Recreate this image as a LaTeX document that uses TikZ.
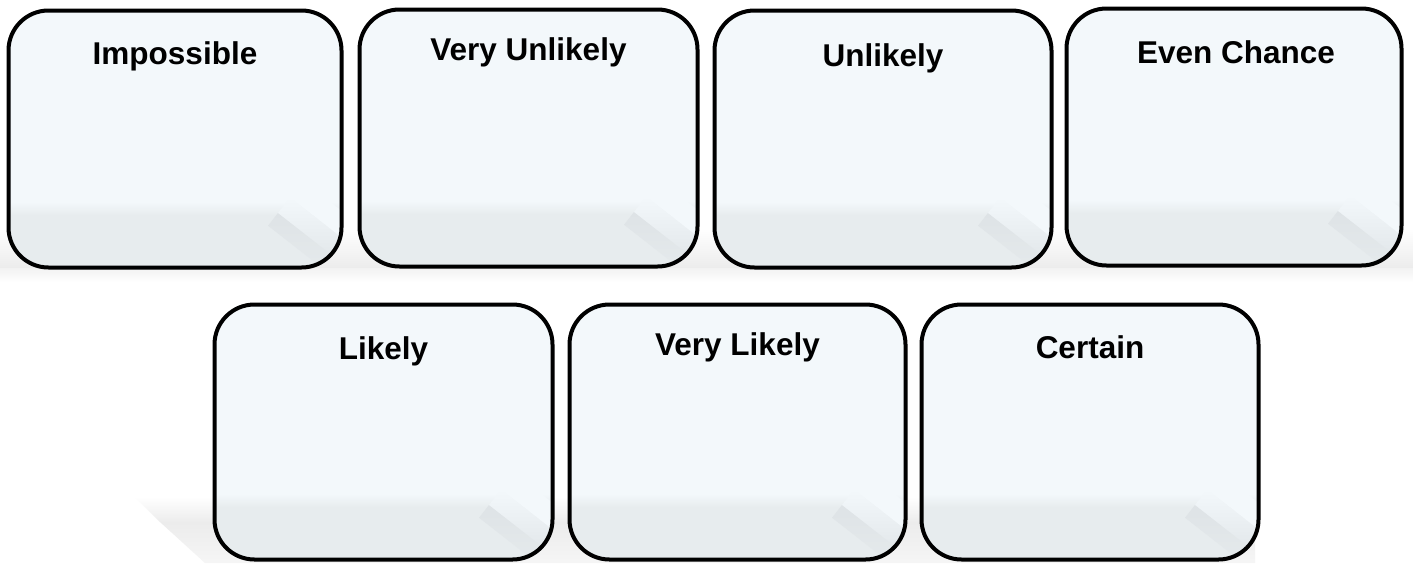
\documentclass[tikz,border=0pt]{standalone}
\usepackage{fontspec}
\setmainfont{Liberation Sans}
\usetikzlibrary{calc,backgrounds}
\definecolor{boxtop}{HTML}{F3F8FB}
\definecolor{boxbot}{HTML}{E7ECEE}
\definecolor{streakc}{HTML}{DEE3E6}
\definecolor{shadowc}{HTML}{ECECEC}
\newcommand\boxdeco[1]{%
  \fill[boxtop, rounded corners=40pt] (#1.south west) rectangle (#1.north east);
  \begin{scope}
    \clip[rounded corners=40pt] (#1.south west) rectangle (#1.north east);
    \fill[boxbot] ($(#1.south west)+(0pt,-5pt)$) rectangle ($(#1.south east)+(0pt,52pt)$);
    \shade[top color=boxtop, bottom color=boxbot] ($(#1.south west)+(0pt,52pt)$) rectangle ($(#1.south east)+(0pt,66pt)$);
    \begin{scope}[shift={($(#1.south east)+(-44pt,34pt)$)}, rotate=-38]
      \shade[top color=boxtop, bottom color=streakc] (-28pt,4pt) rectangle (70pt,24pt);
      \fill[boxtop] (-28pt,24pt) rectangle (70pt,45pt);
      \shade[top color=streakc, bottom color=boxbot] (-28pt,-12pt) rectangle (70pt,4pt);
    \end{scope}
  \end{scope}}
\begin{document}
\begin{tikzpicture}[x=1pt,y=-1pt,
  probbox/.style={draw=black, line width=4pt, rounded corners=40pt,
    inner sep=0pt, outer sep=0pt},
  lbl/.style={anchor=base, inner sep=0pt, font=\fontsize{31.5}{36}\selectfont\bfseries}
]
\useasboundingbox (0,0) rectangle (1413,563);
% top row
\node[probbox, minimum width=333pt, minimum height=257pt] (b1) at (175,139) {};
\node[probbox, minimum width=338pt, minimum height=257pt] (b2) at (528.5,138) {};
\node[probbox, minimum width=337pt, minimum height=257pt] (b3) at (883,139) {};
\node[probbox, minimum width=335pt, minimum height=257pt] (b4) at (1234,137) {};
% bottom row
\node[probbox, minimum width=338pt, minimum height=255pt] (b5) at (383.5,432) {};
\node[probbox, minimum width=336pt, minimum height=255pt] (b6) at (737.5,432) {};
\node[probbox, minimum width=337pt, minimum height=255pt] (b7) at (1090,432) {};
% labels
\node[lbl] (l1) at (175,64) {Impossible};
\node[lbl] (l2) at (528.5,60) {Very Unlikely};
\node[lbl] (l3) at (883,66) {Unlikely};
\node[lbl] (l4) at (1236,63) {Even Chance};
\node[lbl] (l5) at (383.5,359) {Likely};
\node[lbl] (l6) at (737.5,355) {Very Likely};
\node[lbl] (l7) at (1090,358) {Certain};
\begin{pgfonlayer}{background}
  \fill[white] (0,0) rectangle (1413,563);
  % soft floor shadows
  \shade[top color=white, bottom color=shadowc] (0,228) rectangle (1413,268);
  \shade[top color=shadowc!70!white, bottom color=white] (0,268) rectangle (1413,282);
  \shade[top color=white, bottom color=shadowc] (135,497) -- (1255,497) -- (1255,522) -- (160,522) -- cycle;
  \shade[top color=shadowc, bottom color=shadowc!50!white] (160,522) -- (1255,522) -- (1255,563) -- (205,563) -- cycle;
  \foreach \b in {b1,b2,b3,b4,b5,b6,b7} {\boxdeco{\b}}
\end{pgfonlayer}
\end{tikzpicture}
\end{document}
